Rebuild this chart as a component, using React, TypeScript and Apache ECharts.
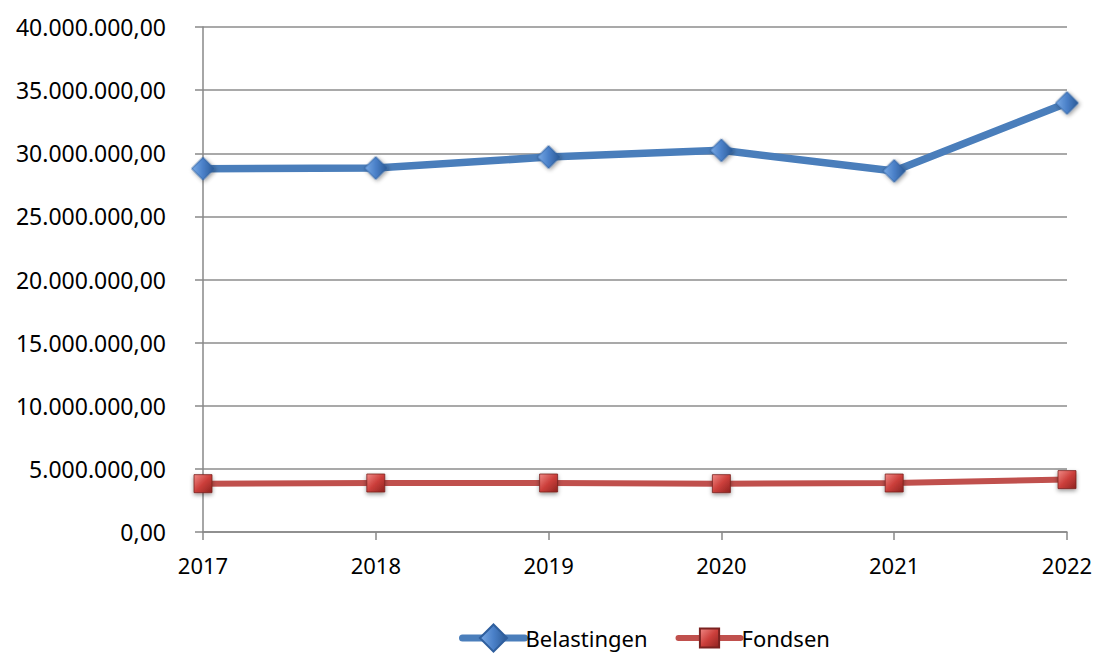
import React, { useEffect, useRef } from "react";
import * as echarts from "echarts";

const years = ["2017", "2018", "2019", "2020", "2021", "2022"];
const belastingen = [28780000, 28830000, 29700000, 30230000, 28600000, 33980000];
const fondsen = [3830000, 3880000, 3880000, 3830000, 3880000, 4150000];
const seriesNames = ["Belastingen", "Fondsen"];

function fmt(v: number): string {
  const s = Math.round(v).toString().replace(/\B(?=(\d{3})+(?!\d))/g, ".");
  return s + ",00";
}

export default function App() {
  const ref = useRef<HTMLDivElement>(null);
  useEffect(() => {
    if (!ref.current) return;
    const chart = echarts.init(ref.current, undefined, { renderer: "svg" });
    const font = "Noto Sans";
    const blueMarker = {
      color: new echarts.graphic.LinearGradient(0, 0, 1, 1, [
        { offset: 0, color: "#7aaae6" },
        { offset: 0.5, color: "#4a80c8" },
        { offset: 1, color: "#2b5a96" },
      ]),
      borderColor: "#2f5f9e",
      borderWidth: 0.8,
      shadowBlur: 4,
      shadowColor: "rgba(0,0,0,0.4)",
      shadowOffsetY: 2,
    };
    const redMarker = {
      color: new echarts.graphic.LinearGradient(0, 0, 1, 1, [
        { offset: 0, color: "#f08a86" },
        { offset: 0.5, color: "#cc3f3b" },
        { offset: 1, color: "#8e2320" },
      ]),
      borderColor: "#7a2220",
      borderWidth: 0.8,
      shadowBlur: 4,
      shadowColor: "rgba(0,0,0,0.4)",
      shadowOffsetY: 2,
    };
    chart.setOption({
      animation: false,
      backgroundColor: "#ffffff",
      grid: { left: 203, right: 30, top: 27, bottom: 123, containLabel: false },
      xAxis: {
        type: "category",
        data: years,
        boundaryGap: false,
        axisLine: { lineStyle: { color: "#888888", width: 1.5 } },
        axisTick: { show: true, length: 8, lineStyle: { color: "#888888", width: 1.5 } },
        axisLabel: { color: "#000", fontFamily: font, fontSize: 22, margin: 22 },
        splitLine: { show: false },
      },
      yAxis: {
        type: "value",
        min: 0,
        max: 40000000,
        interval: 5000000,
        axisLine: { show: true, lineStyle: { color: "#888888", width: 1.5 } },
        axisTick: { show: true, length: 8, lineStyle: { color: "#888888", width: 1.5 } },
        axisLabel: { color: "#000", fontFamily: font, fontSize: 23, margin: 37, formatter: (v: number) => fmt(v) },
        splitLine: { show: true, lineStyle: { color: "#8c8c8c", width: 1.5 } },
      },
      legend: {
        bottom: -3,
        left: 454,
        itemWidth: 62,
        itemHeight: 24,
        itemGap: 28,
        textStyle: { color: "#000", fontFamily: font, fontSize: 22, padding: [0, 0, 0, -4] },
        data: [
          { name: seriesNames[0], lineStyle: { width: 7, cap: "round" } },
          { name: seriesNames[1], lineStyle: { width: 6, cap: "round" } },
        ],
      },
      series: [
        {
          name: seriesNames[0],
          type: "line",
          data: belastingen,
          lineStyle: { color: "#4a7ebb", width: 7.5 },
          symbol: "rect",
          symbolRotate: 45,
          symbolSize: 16,
          itemStyle: blueMarker,
          z: 3,
        },
        {
          name: seriesNames[1],
          type: "line",
          data: fondsen,
          lineStyle: { color: "#c0504d", width: 6 },
          symbol: "rect",
          symbolSize: 18,
          itemStyle: redMarker,
          z: 2,
        },
      ],
    });
    return () => chart.dispose();
  }, []);
  return <div ref={ref} style={{ width: 1097, height: 655, position: "absolute", left: 0, top: 0 }} />;
}
